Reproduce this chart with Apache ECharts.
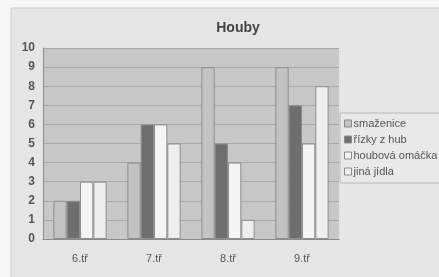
<!DOCTYPE html>
<html>
<head>
<meta charset="utf-8">
<script src="https://cdn.jsdelivr.net/npm/echarts@6/dist/echarts.min.js"></script>
<style>
  html, body { margin: 0; padding: 0; background: #f6f6f6; }
  #chart { width: 439px; height: 277px; }
</style>
</head>
<body>
<div id="chart"></div>
<script>
  // data
  const categories = ['6.tř', '7.tř', '8.tř', '9.tř'];
  const smazenice = [2, 4, 9, 9];
  const rizky = [2, 6, 5, 7];
  const omacka = [3, 6, 4, 5];
  const jina = [3, 5, 1, 8];
  const seriesNames = ['smaženice', 'řízky z hub', 'houbová omáčka', 'jiná jídla'];
  const seriesColors = ['#c2c2c2', '#6e6e6e', '#f4f4f4', '#eeeeee'];

  const chart = echarts.init(document.getElementById('chart'));

  const option = {
    animation: false,
    backgroundColor: '#f6f6f6',
    textStyle: { fontFamily: 'Liberation Sans, Arial, sans-serif' },
    graphic: [
      // photographed frame of the chart
      {
        type: 'rect', z: -10,
        shape: { x: 11, y: 8, width: 440, height: 280 },
        style: { fill: '#e5e5e5', stroke: '#cfcfcf', lineWidth: 1 }
      }
    ],
    title: {
      text: 'Houby',
      left: 233, top: 16,
      textAlign: 'center',
      textStyle: { fontSize: 14, fontWeight: 'bold', color: '#454545' }
    },
    legend: {
      orient: 'vertical',
      left: 340, top: 113,
      padding: [5, 20, 6, 4],
      icon: 'rect',
      itemWidth: 7, itemHeight: 7, itemGap: 5,
      backgroundColor: '#e8e8e8',
      borderColor: '#b8b8b8', borderWidth: 1,
      textStyle: { fontSize: 11, color: '#555', padding: [0, 0, 0, -3] },
      data: seriesNames.map(n => ({ name: n, itemStyle: { borderColor: '#8a8a8a', borderWidth: 1 } }))
    },
    grid: { left: 43, right: 100, top: 48, bottom: 38, show: true, backgroundColor: '#c7c7c7', borderWidth: 0 },
    xAxis: {
      type: 'category',
      data: categories,
      axisTick: { show: false },
      axisLine: { lineStyle: { color: '#8a8a8a' } },
      axisLabel: { fontSize: 11, color: '#555', margin: 14 }
    },
    yAxis: {
      type: 'value',
      min: 0, max: 10, interval: 1,
      axisLine: { show: true, lineStyle: { color: '#8a8a8a' } },
      axisTick: { show: false },
      axisLabel: { fontSize: 12, color: '#555', fontWeight: 'bold', margin: 8 },
      splitLine: { lineStyle: { color: '#a9a9a9' } }
    },
    series: [smazenice, rizky, omacka, jina].map((d, i) => ({
      name: seriesNames[i],
      type: 'bar',
      data: d,
      barGap: '0%',
      barCategoryGap: '28%',
      itemStyle: { color: seriesColors[i], borderColor: '#8c8c8c', borderWidth: 1 }
    }))
  };

  chart.setOption(option);
</script>
</body>
</html>
